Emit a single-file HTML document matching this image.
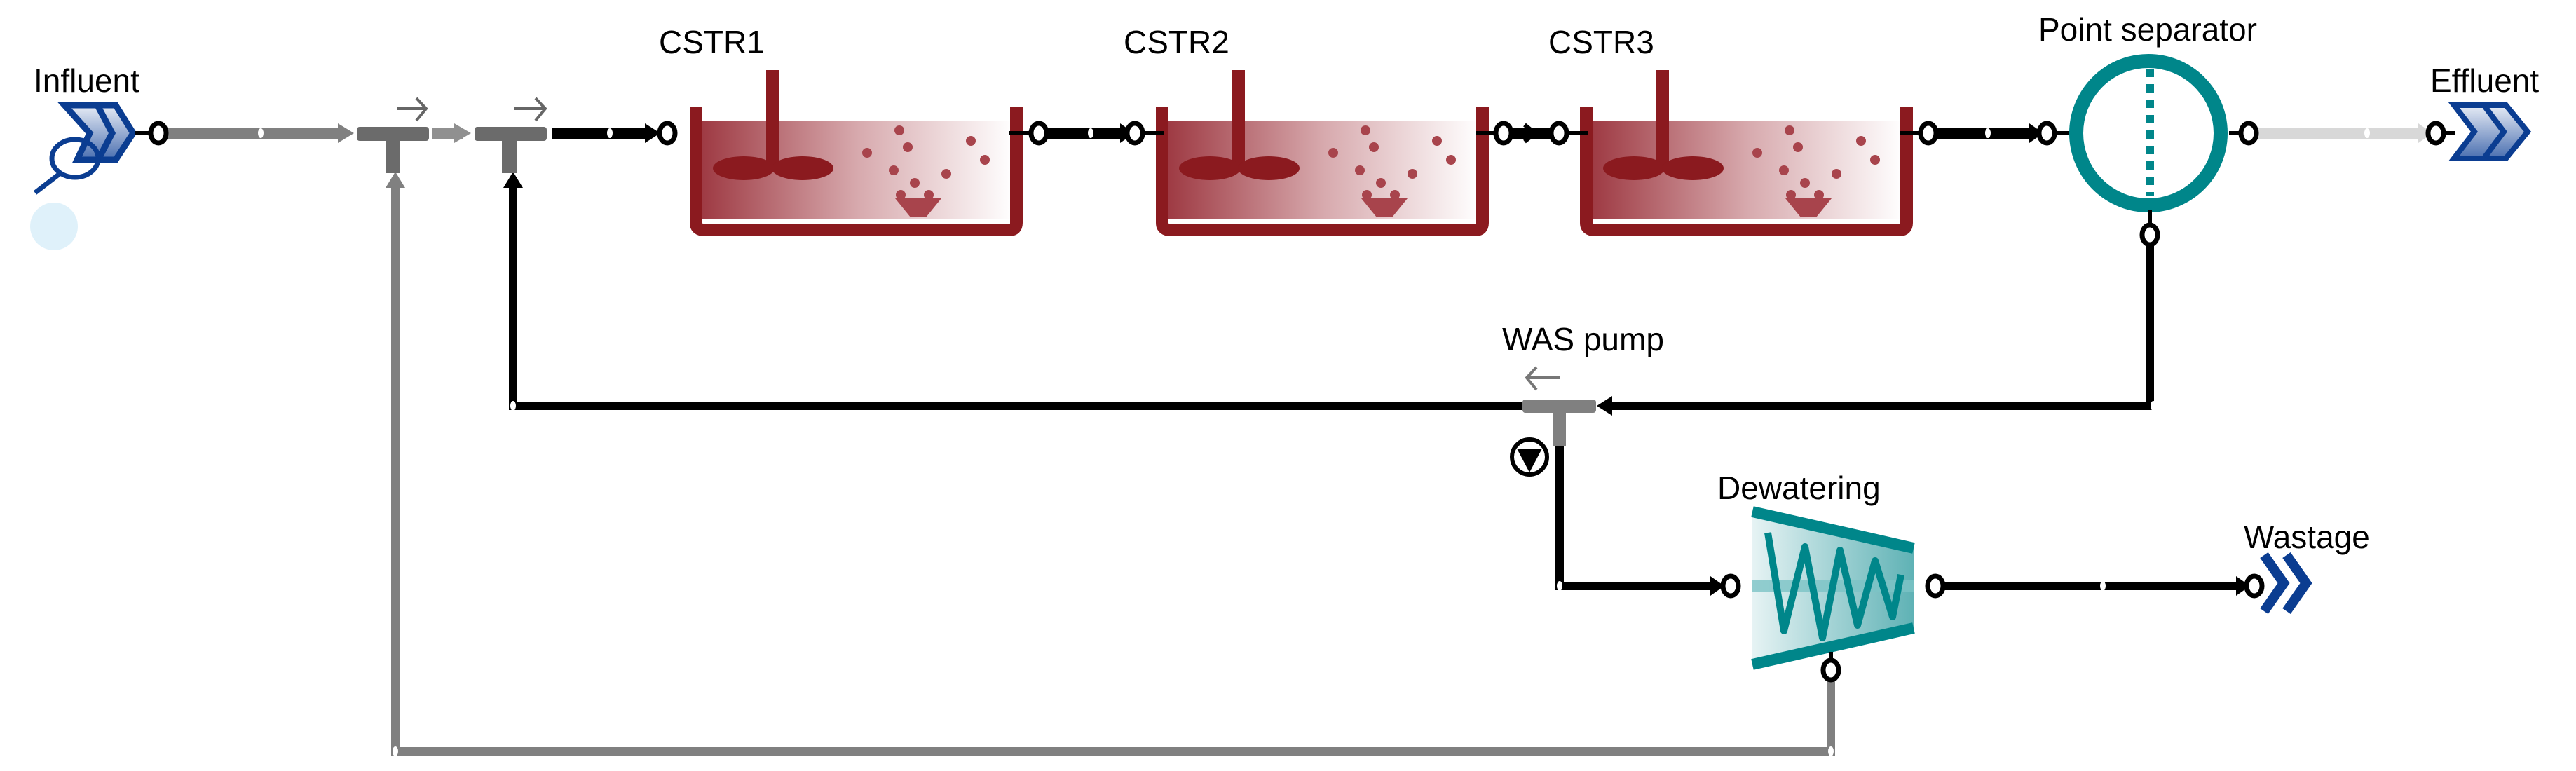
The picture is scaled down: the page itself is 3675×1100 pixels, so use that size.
<!DOCTYPE html>
<html><head><meta charset="utf-8"><style>
html,body{margin:0;padding:0;background:#fff}
svg{display:block}
text{font-family:"Liberation Sans",Arial,sans-serif;fill:#000}
</style></head><body>
<svg width="3675" height="1100" viewBox="0 0 3675 1100" xmlns="http://www.w3.org/2000/svg">
<defs>
<linearGradient id="tank" x1="0" x2="1" y1="0" y2="0">
<stop offset="0" stop-color="#9e3a43"/><stop offset="0.5" stop-color="#d7a9ad"/><stop offset="1" stop-color="#ffffff"/></linearGradient>
<linearGradient id="dew" x1="0" x2="1" y1="0" y2="0">
<stop offset="0" stop-color="#e6f3f4"/><stop offset="1" stop-color="#5fb2b5"/></linearGradient>
<linearGradient id="chev" x1="0" x2="0" y1="0" y2="1">
<stop offset="0" stop-color="#e8edf6"/><stop offset="1" stop-color="#4a6fb0"/></linearGradient>
<g id="port"><ellipse cx="0" cy="0" rx="11" ry="14" fill="#fff" stroke="#000" stroke-width="7"/></g>
<g id="cstr">
<rect x="16" y="20" width="444" height="140" fill="url(#tank)"/>
<path d="M8,0 V165 Q8,175 20,175 H455 Q465,175 465,165 V0" fill="none" stroke="#8b1a1f" stroke-width="18"/>
<rect x="108" y="-53" width="18" height="140" fill="#8b1a1f"/>
<ellipse cx="76" cy="87" rx="44" ry="17" fill="#8b1a1f"/>
<ellipse cx="160" cy="87" rx="44" ry="17" fill="#8b1a1f"/>
<g fill="#a8444c">
<circle cx="298" cy="33" r="7"/><circle cx="400" cy="48" r="7"/><circle cx="310" cy="57" r="7"/>
<circle cx="252" cy="65" r="7"/><circle cx="420" cy="75" r="7"/><circle cx="290" cy="90" r="7"/>
<circle cx="365" cy="95" r="7"/><circle cx="320" cy="108" r="7"/><circle cx="300" cy="125" r="7"/><circle cx="340" cy="125" r="7"/>
</g>
<path d="M292,130 H358 L336,157 H314 Z" fill="#a8444c"/>
</g>
</defs>

<!-- Labels -->
<text x="48" y="131" font-size="46">Influent</text>
<text x="940" y="76" font-size="46">CSTR1</text>
<text x="1603" y="76" font-size="46">CSTR2</text>
<text x="2209" y="76" font-size="46">CSTR3</text>
<text x="2908" y="58" font-size="46">Point separator</text>
<text x="3467" y="131" font-size="46">Effluent</text>
<text x="2143" y="500" font-size="46">WAS pump</text>
<text x="2450" y="712" font-size="46">Dewatering</text>
<text x="3201" y="782" font-size="46">Wastage</text>

<!-- Gray recycle line from dewatering -->
<polyline points="2612,960 2612,1072 564,1072 564,262" fill="none" stroke="#808080" stroke-width="12"/>
<path d="M550,268 L564,245 L578,268 Z" fill="#808080"/>
<!-- Black RAS line -->
<polyline points="3067,340 3067,579 2290,579" fill="none" stroke="#000" stroke-width="12"/>
<path d="M2300,565 L2278,579 L2300,593 Z" fill="#000"/>
<polyline points="2172,579 732,579 732,262" fill="none" stroke="#000" stroke-width="12"/>
<path d="M718,268 L732,245 L746,268 Z" fill="#000"/>
<!-- WAS pump to dewatering -->
<polyline points="2225,637 2225,836 2450,836" fill="none" stroke="#000" stroke-width="12"/>
<path d="M2440,822 L2460,836 L2440,850 Z" fill="#000"/>
<!-- dewatering to wastage -->
<line x1="2765" y1="836" x2="3200" y2="836" stroke="#000" stroke-width="12"/>
<path d="M3190,822 L3210,836 L3190,850 Z" fill="#000"/>

<!-- Main line segments -->
<line x1="230" y1="190" x2="490" y2="190" stroke="#808080" stroke-width="16"/>
<path d="M482,176 L505,190 L482,204 Z" fill="#808080"/>
<line x1="616" y1="190" x2="660" y2="190" stroke="#909090" stroke-width="16"/>
<path d="M648,176 L672,190 L648,204 Z" fill="#909090"/>
<line x1="788" y1="190" x2="930" y2="190" stroke="#000" stroke-width="16"/>
<path d="M920,176 L942,190 L920,204 Z" fill="#000"/>
<line x1="2145" y1="190" x2="2215" y2="190" stroke="#000" stroke-width="16"/>
<line x1="3210" y1="190" x2="3460" y2="190" stroke="#d8d8d8" stroke-width="16"/>
<path d="M3450,176 L3470,190 L3450,204 Z" fill="#d8d8d8"/>

<!-- Mixers -->
<rect x="509" y="181" width="103" height="20" rx="4" fill="#6b6b6b"/>
<rect x="551" y="195" width="19" height="52" fill="#6b6b6b"/>
<path d="M566,155 H606 M594,140 L608,155 L594,172" fill="none" stroke="#666" stroke-width="4"/>
<rect x="677" y="181" width="103" height="20" rx="4" fill="#6b6b6b"/>
<rect x="716" y="195" width="21" height="52" fill="#6b6b6b"/>
<path d="M733,155 H776 M764,140 L778,155 L764,172" fill="none" stroke="#666" stroke-width="4"/>

<!-- WAS pump tee -->
<rect x="2172" y="570" width="105" height="19" rx="4" fill="#808080"/>
<rect x="2215" y="580" width="19" height="57" fill="#808080"/>
<path d="M2225,539 H2180 M2192,524 L2178,539 L2192,556" fill="none" stroke="#777" stroke-width="4"/>
<circle cx="2182" cy="652" r="25" fill="#fff" stroke="#000" stroke-width="6"/>
<path d="M2164,640 H2200 L2182,674 Z" fill="#000"/>

<!-- Influent -->
<g>
<path d="M92,150 H165 L190,190 L165,228 H110 L128,190 Z" fill="url(#chev)" stroke="#0b3d91" stroke-width="9"/>
<path d="M140,152 L160,190 L140,228" fill="none" stroke="#0b3d91" stroke-width="9"/>
<ellipse cx="107" cy="226" rx="33" ry="27" fill="none" stroke="#0b3d91" stroke-width="7"/>
<line x1="85" y1="248" x2="50" y2="275" stroke="#0b3d91" stroke-width="7"/>
<circle cx="77" cy="323" r="34" fill="#dff1fa"/>
<line x1="192" y1="190" x2="215" y2="190" stroke="#000" stroke-width="6"/>
</g>
<use href="#port" x="226" y="190"/>
<use href="#port" x="952" y="190"/>

<!-- CSTRs -->
<use href="#cstr" x="985" y="153"/>
<use href="#cstr" x="1650" y="153"/>
<use href="#cstr" x="2255" y="153"/>
<line x1="1440" y1="190" x2="1660" y2="190" stroke="#000" stroke-width="6"/>
<line x1="1470" y1="190" x2="1600" y2="190" stroke="#000" stroke-width="16"/>
<path d="M1598,176 L1618,190 L1598,204 Z" fill="#000"/>
<line x1="2105" y1="190" x2="2265" y2="190" stroke="#000" stroke-width="6"/>
<line x1="2145" y1="190" x2="2215" y2="190" stroke="#000" stroke-width="16"/>
<line x1="2710" y1="190" x2="2960" y2="190" stroke="#000" stroke-width="6"/>
<line x1="2760" y1="190" x2="2895" y2="190" stroke="#000" stroke-width="16"/>
<path d="M2895,176 L2915,190 L2895,204 Z" fill="#000"/>
<use href="#port" x="1482" y="190"/><use href="#port" x="1619" y="190"/>
<use href="#port" x="2145" y="190"/><use href="#port" x="2224" y="190"/>
<path d="M2175,178 L2190,190 L2175,202" fill="none" stroke="#000" stroke-width="6"/>
<use href="#port" x="2751" y="190"/><use href="#port" x="2920" y="190"/>

<!-- mid dots -->
<g fill="#fff">
<ellipse cx="372" cy="190" rx="4" ry="7"/><ellipse cx="870" cy="190" rx="4" ry="7"/>
<ellipse cx="1556" cy="190" rx="4" ry="7"/><ellipse cx="2836" cy="190" rx="4" ry="7"/>
<ellipse cx="3377" cy="190" rx="4" ry="7"/><ellipse cx="3000" cy="836" rx="4" ry="7"/>
<ellipse cx="2225" cy="836" rx="4" ry="7"/><ellipse cx="3072" cy="579" rx="4" ry="7"/>
<ellipse cx="732" cy="579" rx="4" ry="7"/><ellipse cx="2612" cy="1072" rx="4" ry="7"/>
<ellipse cx="564" cy="1072" rx="4" ry="7"/>
</g>

<!-- Point separator -->
<circle cx="3065" cy="190" r="103" fill="#fff" stroke="#00868a" stroke-width="20"/>
<line x1="3067" y1="98" x2="3067" y2="280" stroke="#00868a" stroke-width="12" stroke-dasharray="12,10"/>
<line x1="3180" y1="190" x2="3200" y2="190" stroke="#000" stroke-width="6"/>
<use href="#port" x="3208" y="190"/>
<line x1="3067" y1="300" x2="3067" y2="330" stroke="#000" stroke-width="6"/>
<use href="#port" x="3067" y="335"/>

<!-- Effluent -->
<path d="M3501,150 H3575 L3606,188 L3575,226 H3501 L3530,188 Z" fill="url(#chev)" stroke="#0b3d91" stroke-width="8"/>
<path d="M3545,152 L3572,188 L3545,224" fill="none" stroke="#0b3d91" stroke-width="8"/>
<line x1="3480" y1="190" x2="3502" y2="190" stroke="#000" stroke-width="6"/>
<use href="#port" x="3475" y="190"/>

<!-- Dewatering -->
<path d="M2500,726 L2730,775 V902 L2500,952 Z" fill="url(#dew)"/>
<path d="M2500,730 L2730,782" stroke="#00868a" stroke-width="16"/>
<path d="M2500,948 L2730,896" stroke="#00868a" stroke-width="16"/>
<rect x="2500" y="828" width="230" height="16" fill="#7cc3c5" opacity="0.8"/>
<polyline points="2522,760 2545,900 2575,780 2600,910 2625,785 2650,892 2675,800 2700,880 2712,820" fill="none" stroke="#00868a" stroke-width="10" stroke-linejoin="round"/>
<use href="#port" x="2469" y="836"/>
<use href="#port" x="2761" y="836"/>
<line x1="2612" y1="930" x2="2612" y2="950" stroke="#000" stroke-width="6"/>
<use href="#port" x="2612" y="956"/>

<!-- Wastage -->
<path d="M3230,792 L3258,832 L3230,872 M3262,792 L3290,832 L3262,872" fill="none" stroke="#0b3d91" stroke-width="14"/>
<use href="#port" x="3216" y="836"/>
</svg>
</body></html>
